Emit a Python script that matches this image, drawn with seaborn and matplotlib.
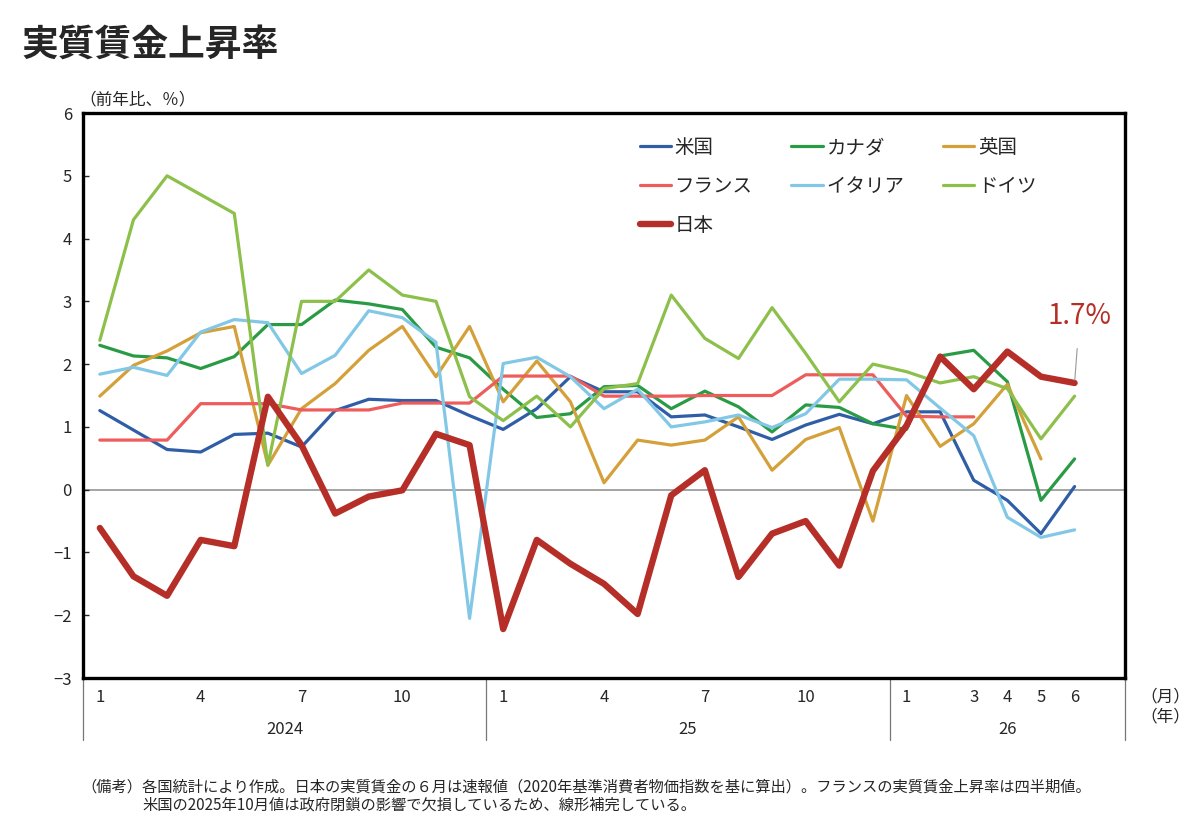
import numpy as np
import pandas as pd
import matplotlib
matplotlib.use('Agg')
import matplotlib.pyplot as plt
import seaborn as sns

# monthly data, Jan 2024 - Jun 2026
month_labels = ['1', '', '', '4', '', '', '7', '', '', '10', '', '',
                '1', '', '', '4', '', '', '7', '', '', '10', '', '',
                '1', '', '3', '4', '5', '6']
year_labels = ['2024', '25', '26']

us = [1.26, 0.95, 0.64, 0.60, 0.88, 0.90, 0.68, 1.26, 1.44, 1.42, 1.42, 1.18,
      0.96, 1.29, 1.80, 1.56, 1.56, 1.16, 1.19, 1.00, 0.80, 1.03, 1.20, 1.05,
      1.24, 1.24, 0.15, -0.17, -0.70, 0.05]
canada = [2.30, 2.13, 2.10, 1.93, 2.12, 2.63, 2.63, 3.02, 2.96, 2.87, 2.27, 2.10,
          1.60, 1.15, 1.21, 1.64, 1.66, 1.29, 1.57, 1.32, 0.92, 1.35, 1.31, 1.05,
          0.96, 2.13, 2.22, 1.72, -0.17, 0.49]
uk = [1.49, 1.98, 2.21, 2.50, 2.60, 0.39, 1.29, 1.69, 2.22, 2.60, 1.80, 2.60,
      1.40, 2.05, 1.40, 0.11, 0.79, 0.71, 0.79, 1.16, 0.31, 0.80, 0.99, -0.50,
      1.50, 0.69, 1.05, 1.68, 0.49, np.nan]
france = [0.79, 0.79, 0.79, 1.37, 1.37, 1.37, 1.27, 1.27, 1.27, 1.38, 1.38, 1.38,
          1.81, 1.81, 1.81, 1.49, 1.49, 1.49, 1.50, 1.50, 1.50, 1.83, 1.83, 1.83,
          1.17, 1.16, 1.16, np.nan, np.nan, np.nan]
italy = [1.84, 1.95, 1.82, 2.51, 2.71, 2.66, 1.85, 2.14, 2.85, 2.74, 2.35, -2.05,
         2.01, 2.11, 1.80, 1.29, 1.60, 1.00, 1.08, 1.19, 0.99, 1.21, 1.76, 1.76,
         1.75, 1.30, 0.86, -0.44, -0.76, -0.64]
germany = [2.38, 4.30, 5.00, 4.70, 4.40, 0.39, 3.00, 3.00, 3.50, 3.10, 3.00, 1.48,
           1.10, 1.49, 1.00, 1.61, 1.69, 3.10, 2.41, 2.09, 2.90, 2.17, 1.40, 2.00,
           1.88, 1.70, 1.80, 1.61, 0.81, 1.49]
japan = [-0.61, -1.38, -1.69, -0.80, -0.90, 1.48, 0.71, -0.38, -0.11, -0.01, 0.89, 0.71,
         -2.22, -0.80, -1.18, -1.50, -1.98, -0.09, 0.31, -1.39, -0.70, -0.50, -1.21, 0.30,
         1.02, 2.12, 1.60, 2.20, 1.80, 1.70]

series = [('米国', us, '#2f5ea6', 2.3),
          ('カナダ', canada, '#2a9b45', 2.3),
          ('英国', uk, '#d4a03a', 2.3),
          ('フランス', france, '#ee5c5c', 2.3),
          ('イタリア', italy, '#82c8e6', 2.3),
          ('ドイツ', germany, '#8cc04b', 2.3),
          ('日本', japan, '#b52f28', 4.6)]

sns.set_style('white')
plt.rcParams['font.family'] = ['Noto Sans CJK JP', 'DejaVu Sans']
plt.rcParams['axes.unicode_minus'] = False

fig = plt.figure(figsize=(12, 8.31), dpi=100)
ax = fig.add_axes([0.0692, 0.1841, 0.8683, 0.6799])

x = np.arange(len(month_labels))
handles = {}
for name, vals, col, lw in series:
    df = pd.DataFrame({'x': x, 'y': vals}).dropna()
    sns.lineplot(data=df, x='x', y='y', color=col, linewidth=lw, ax=ax,
                 label=name, legend=False)
    handles[name] = ax.lines[-1]

ax.axhline(0, color='#8c8c8c', lw=1.1, zorder=0)

ax.set_xlim(-0.5, 30.5)
ax.set_ylim(-3, 6)
ax.set_yticks(range(-3, 7))
ax.set_yticklabels(['−3', '−2', '−1', '0', '1', '2', '3', '4', '5', '6'], fontsize=12)
ax.tick_params(axis='y', direction='in', length=4, width=1, left=True, pad=8)
ax.set_xticks([])
ax.set_xlabel('')
ax.set_ylabel('')
for s in ax.spines.values():
    s.set_linewidth(2.4)
    s.set_color('black')

# month and year labels under the axis
tr = ax.get_xaxis_transform()
for i, m in enumerate(month_labels):
    if m:
        ax.text(i, -0.034, m, transform=tr, ha='center', va='center', fontsize=12)
for k, yl in enumerate(year_labels):
    lo = -0.5 + 12 * k
    hi = min(lo + 12, 30.5)
    ax.text((lo + hi) / 2, -0.092, yl, transform=tr, ha='center', va='center', fontsize=12)
for b in [-0.5, 11.5, 23.5, 30.5]:
    ax.plot([b, b], [0, -0.11], transform=tr, color='#777777', lw=0.9, clip_on=False)
ax.text(30.95, -0.034, '（月）', transform=tr, ha='left', va='center', fontsize=12)
ax.text(30.95, -0.069, '（年）', transform=tr, ha='left', va='center', fontsize=12)

# legend in the order of the reference rows
order = ['米国', 'フランス', '日本', 'カナダ', 'イタリア', '英国', 'ドイツ']
leg = ax.legend([handles[n] for n in order], order, ncol=3, frameon=False,
                loc='upper left', bbox_to_anchor=(0.533, 1 - 137 / 831),
                bbox_transform=fig.transFigure, fontsize=14,
                handlelength=1.6, handletextpad=0.2, columnspacing=2.0,
                labelspacing=0.92, borderpad=0, borderaxespad=0)

# note for the latest Japanese value
ax.annotate('1.7%', xy=(29, japan[-1]), xytext=(29.15, 2.76),
            ha='center', va='center', fontsize=20, color='#b52f28',
            arrowprops=dict(arrowstyle='-', color='#999999', lw=0.8,
                            shrinkA=10, shrinkB=2))

fig.text(0.018, 1 - 45 / 831, '実質賃金上昇率', fontsize=26.5, weight='bold', va='center')
fig.text(0.066, 1 - 100 / 831, '（前年比、％）', fontsize=12, va='center')
fig.text(0.068, 1 - 787 / 831,
         '（備考）各国統計により作成。日本の実質賃金の６月は速報値（2020年基準消費者物価指数を基に算出）。フランスの実質賃金上昇率は四半期値。',
         fontsize=11, va='center')
fig.text(0.119, 1 - 805 / 831,
         '米国の2025年10月値は政府閉鎖の影響で欠損しているため、線形補完している。',
         fontsize=11, va='center')

fig.savefig('out.png', dpi=100)
